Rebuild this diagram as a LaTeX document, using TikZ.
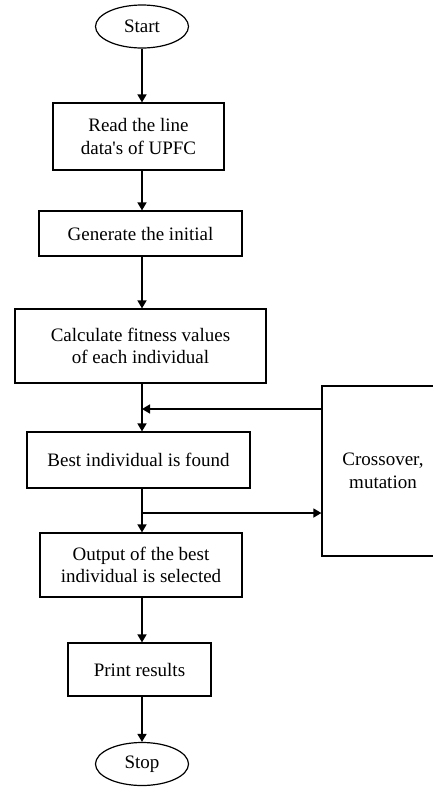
\documentclass[tikz,border=0pt]{standalone}
\usepackage{fontspec}
\setmainfont{Liberation Serif}
\usetikzlibrary{positioning, shapes.geometric, arrows.meta}

\begin{document}
\begin{tikzpicture}[x=1pt, y=-1pt,
every node/.style = {font=\fontsize{19}{22.5}\selectfont, align=center, inner sep=0pt},
       term/.style = {ellipse, draw, line width=1.2pt, minimum width=93pt, minimum height=43pt},
       proc/.style = {rectangle, draw, line width=1.2pt},
        arr/.style = {line width=1.5pt, -{Triangle[length=8pt, width=9pt]}}
                    ]
\useasboundingbox (0,0) rectangle (433,788);
\node (start) [term] at (142,26.5) {Start};
\node (read)  [proc, minimum width=171pt, minimum height=67pt] at (138.5,136.5) {Read the line\\data\textquotesingle s of UPFC};
\node (gen)   [proc, minimum width=203pt, minimum height=45pt] at (140.5,233.5) {Generate the initial};
\node (fit)   [proc, minimum width=251pt, minimum height=74pt] at (140.5,346) {Calculate fitness values\\of each individual};
\node (best)  [proc, minimum width=223pt, minimum height=56pt] at (138.5,460) {Best individual is found};
\node (out)   [proc, minimum width=202pt, minimum height=64pt] at (141,565) {Output of the best\\individual is selected};
\node (print) [proc, minimum width=143pt, minimum height=53pt] at (139.5,669.5) {Print results};
\node (stop)  [term] at (142,764) {Stop};
\node (cross) [proc, minimum width=122pt, minimum height=170pt] at (383,471) {Crossover,\\mutation};
\coordinate (back) at (142,409);
\coordinate (fork) at (142,513);
\draw[arr] (start) -- (start |- read.north);
\draw[arr] (start |- read.south) -- (start |- gen.north);
\draw[arr] (start |- gen.south) -- (start |- fit.north);
\draw[arr] (start |- fit.south) -- (start |- best.north);
\draw[arr] (start |- best.south) -- (start |- out.north);
\draw[arr] (start |- out.south) -- (start |- print.north);
\draw[arr] (start |- print.south) -- (stop);
\draw[arr] (cross.west |- back) -- (back);
\draw[arr] (fork) -- (cross.west |- fork);
\end{tikzpicture}
\end{document}
